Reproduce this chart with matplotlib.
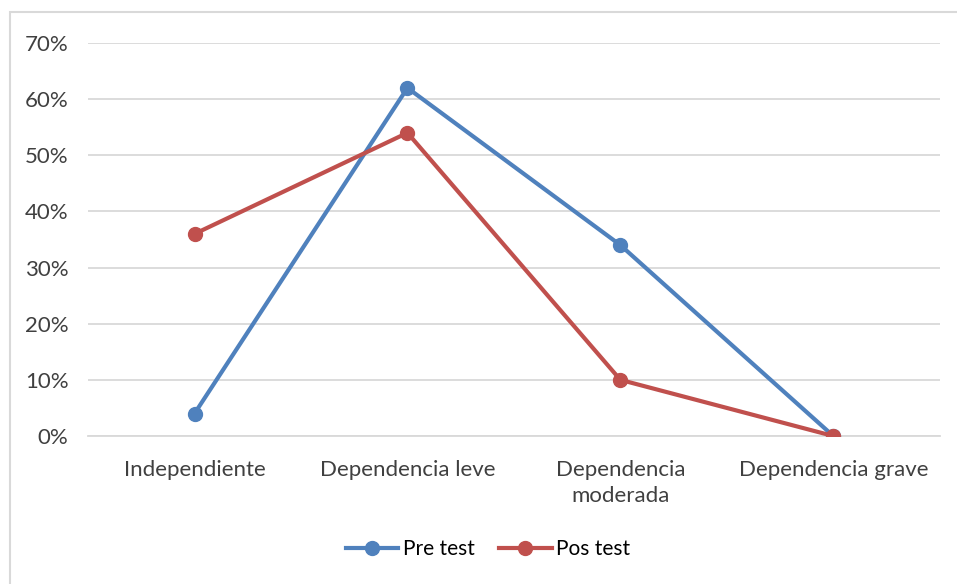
import numpy as np
import matplotlib.pyplot as plt
from matplotlib.patches import Rectangle
from matplotlib.ticker import PercentFormatter

categories = ['Independiente', 'Dependencia leve', 'Dependencia\nmoderada', 'Dependencia grave']
pre_test = [4, 62, 34, 0]
pos_test = [36, 54, 10, 0]

plt.rcParams['font.family'] = ['Lato', 'DejaVu Sans']

fig = plt.figure(figsize=(9.57, 5.84), dpi=100)
ax = fig.add_axes([0.092, 0.2534, 0.890, 0.673])

# chart border (partly cut off on right/bottom like the screenshot)
fig.patches.append(Rectangle((10/957, -0.1), 1.2, 1 - 12/584 + 0.1, transform=fig.transFigure,
                             fill=False, edgecolor='#d9d9d9', linewidth=1.5))

x = np.arange(len(categories))
ax.plot(x, pre_test, color='#4f81bd', linewidth=3, marker='o', markersize=10, label='Pre test', zorder=3)
ax.plot(x, pos_test, color='#c0504d', linewidth=3, marker='o', markersize=10, label='Pos test', zorder=3)

ax.set_xlim(-0.5, 3.5)
ax.set_ylim(0, 70)
ax.set_yticks(range(0, 71, 10))
ax.yaxis.set_major_formatter(PercentFormatter(decimals=0))
ax.set_xticks(x)
ax.set_xticklabels(categories, linespacing=1.4)
ax.grid(axis='y', color='#d9d9d9', linewidth=1.3)
ax.set_axisbelow(True)
for s in ['top', 'right', 'left']:
    ax.spines[s].set_visible(False)
ax.spines['bottom'].set_color('#d9d9d9')
ax.spines['bottom'].set_linewidth(1.3)
ax.tick_params(axis='both', length=0, labelsize=16, colors='#404040')
ax.tick_params(axis='x', pad=17)
ax.tick_params(axis='y', pad=14)

fig.legend(loc='center', bbox_to_anchor=(0.51, 1 - 549/584), ncol=2, frameon=False,
           fontsize=15, handlelength=2.5, columnspacing=1.2, handletextpad=0.2)

fig.savefig('out.png', dpi=100)
